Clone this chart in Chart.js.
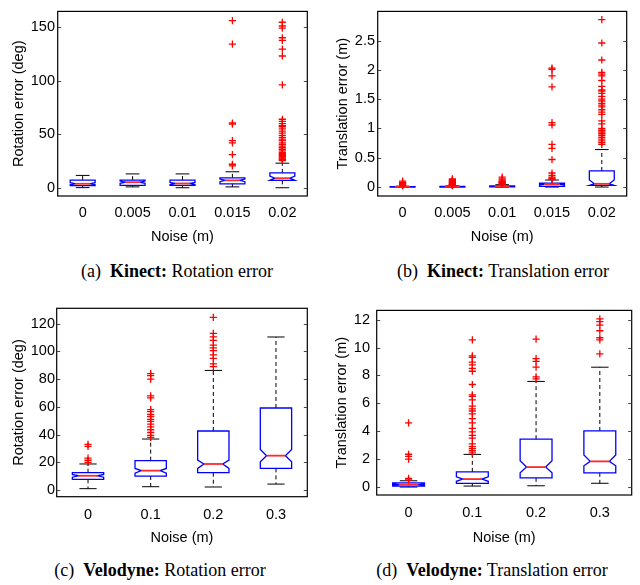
<!DOCTYPE html>
<html>
<head>
<meta charset="utf-8">
<script src="https://cdn.jsdelivr.net/npm/chart.js@4.4.0/dist/chart.umd.min.js"></script>
<style>
body { margin: 0; background: #fff; width: 640px; height: 585px; position: relative; overflow: hidden; }
canvas { position: absolute; }
.cap { position: absolute; font: 18px "Liberation Serif", "Times New Roman", serif; line-height: 18px;
       white-space: nowrap; transform: translateX(-50%); color: #000; }
</style>
</head>
<body>
<canvas id="kRot" width="320" height="255" style="left:0;top:0"></canvas>
<canvas id="kTra" width="320" height="255" style="left:320px;top:0"></canvas>
<canvas id="vRot" width="320" height="255" style="left:0;top:295px"></canvas>
<canvas id="vTra" width="320" height="255" style="left:320px;top:295px"></canvas>
<div class="cap" style="left:177px;top:262px">(a)&nbsp; <b>Kinect:</b> Rotation error</div>
<div class="cap" style="left:503px;top:262px">(b)&nbsp; <b>Kinect:</b> Translation error</div>
<div class="cap" style="left:160px;top:561px">(c)&nbsp; <b>Velodyne:</b> Rotation error</div>
<div class="cap" style="left:492px;top:561px">(d)&nbsp; <b>Velodyne:</b> Translation error</div>
<script>
var kinectNoise = ['0', '0.005', '0.01', '0.015', '0.02'];
var veloNoise = ['0', '0.1', '0.2', '0.3'];

// (a) Kinect rotation error (deg)
var kRotTicks = [0, 50, 100, 150];
var kRotQ1 = [2.0, 2.3, 2.3, 3.8, 7.0];
var kRotMed = [3.8, 5.3, 4.1, 7.0, 9.0];
var kRotQ3 = [7.3, 7.2, 7.3, 9.3, 14.0];
var kRotLo = [0.2, 0.9, 0.1, 0.9, 0.1];
var kRotHi = [11.6, 13.0, 13.0, 15.0, 23.0];
var kRotNotchLo = [2.8, 4.3, 3.1, 5.8, 7.0];
var kRotNotchHi = [4.8, 6.3, 5.1, 8.2, 11.0];
var kRotOut = [[], [], [],
    [20.5, 22, 31, 42, 44, 59.5, 60.5, 134, 156],
    [154.5, 151, 149, 140, 137.5, 129.5, 123, 96, 64, 62, 60, 58, 57, 55, 53, 51, 49, 47, 45.5, 44,
     42, 40.5, 39, 37.5, 36, 34.5, 33, 32, 31, 30, 29, 28, 27, 26.5, 25.5]];

// (b) Kinect translation error (m)
var kTraTicks = [0, 0.5, 1, 1.5, 2, 2.5];
var kTraQ1 = [0.0, 0.0, 0.005, 0.012, 0.028];
var kTraMed = [0.004, 0.005, 0.01, 0.044, 0.055];
var kTraQ3 = [0.008, 0.012, 0.02, 0.066, 0.275];
var kTraLo = [0, 0, 0, 0, 0];
var kTraHi = [0.015, 0.02, 0.04, 0.12, 0.64];
var kTraNotchLo = [0.002, 0.003, 0.008, 0.036, 0.028];
var kTraNotchHi = [0.006, 0.007, 0.012, 0.052, 0.12];
var kTraOut = [[0.1, 0.08, 0.06, 0.045, 0.03, 0.02],
    [0.14, 0.125, 0.11, 0.1, 0.09, 0.08, 0.07, 0.06, 0.05, 0.045, 0.04, 0.035, 0.03, 0.025],
    [0.17, 0.14, 0.12, 0.1, 0.09, 0.08, 0.07, 0.06, 0.05],
    [2.03, 2.01, 1.9, 1.71, 1.1, 1.06, 0.73, 0.66, 0.47, 0.24, 0.2, 0.17, 0.15, 0.13],
    [2.86, 2.46, 2.17, 1.96, 1.93, 1.9, 1.82, 1.72, 1.66, 1.64, 1.6, 1.55, 1.5, 1.47, 1.43, 1.4,
     1.37, 1.32, 1.28, 1.24, 1.13, 1.08, 1.0, 0.97, 0.94, 0.91, 0.88, 0.85, 0.82, 0.79, 0.76, 0.73]];

// (c) Velodyne rotation error (deg)
var vRotTicks = [0, 20, 40, 60, 80, 100, 120];
var vRotQ1 = [7.7, 10.1, 12.5, 15.6];
var vRotMed = [10.3, 14.0, 18.8, 24.8];
var vRotQ3 = [12.5, 21.2, 42.6, 59.2];
var vRotLo = [1.0, 2.4, 2.2, 4.3];
var vRotHi = [18.8, 36.8, 86.3, 110.4];
var vRotNotchLo = [9.3, 12.2, 15.6, 20.4];
var vRotNotchHi = [11.3, 15.6, 21.6, 29.3];
var vRotOut = [[33, 31.5, 23, 21.5, 20],
    [84, 82.5, 80, 68, 66.5, 58, 56.5, 54.5, 53, 51, 49.5, 47.5, 45.5, 43.5, 41.5, 39.5, 38],
    [124.5, 113, 110.5, 108, 104.5, 102.5, 100.5, 97.5, 95, 91, 89],
    []];

// (d) Velodyne translation error (m)
var vTraTicks = [0, 2, 4, 6, 8, 10, 12];
var vTraQ1 = [0.07, 0.27, 0.66, 1.02];
var vTraMed = [0.18, 0.57, 1.43, 1.84];
var vTraQ3 = [0.3, 1.09, 3.43, 4.02];
var vTraLo = [0, 0.07, 0.09, 0.27];
var vTraHi = [0.45, 2.34, 7.57, 8.59];
var vTraNotchLo = [0.14, 0.41, 1.02, 1.52];
var vTraNotchHi = [0.22, 0.73, 1.89, 2.3];
var vTraOut = [[4.6, 2.35, 2.2, 2.0, 0.62, 0.52],
    [10.55, 9.4, 9.3, 8.95, 8.75, 8.5, 8.3, 7.35, 6.6, 6.5, 6.25, 5.8, 5.6, 5.45, 5.25, 4.9, 4.6,
     4.2, 3.95, 3.7, 3.5, 3.1, 2.9, 2.75, 2.6, 2.45],
    [10.6, 9.2, 9.0, 8.6, 7.9, 7.75],
    [12.05, 11.85, 11.6, 11.2, 10.7, 10.55, 9.55]];

var FONT = { family: '"Liberation Sans", Arial, Helvetica, sans-serif', size: 14.5 };

// boxes, whiskers and medians drawn through the chart scales
function boxPlugin(b) {
    return {
        id: 'boxes',
        beforeDatasetsDraw: function (chart) {
            var ctx = chart.ctx, xs = chart.scales.x, ys = chart.scales.y;
            var w = xs.getPixelForValue(1.25) - xs.getPixelForValue(1);
            function line(x1, y1, x2, y2) {
                ctx.beginPath(); ctx.moveTo(x1, y1); ctx.lineTo(x2, y2); ctx.stroke();
            }
            ctx.save();
            for (var i = 0; i < b.q1.length; i++) {
                var cx = xs.getPixelForValue(i + 1);
                var xl = cx - w, xr = cx + w, inset = w * 0.4, cap = w * 0.55;
                var y1 = ys.getPixelForValue(b.q1[i]), y3 = ys.getPixelForValue(b.q3[i]);
                var ym = ys.getPixelForValue(b.med[i]);
                var ylo = ys.getPixelForValue(b.lo[i]), yhi = ys.getPixelForValue(b.hi[i]);
                var nlo = ys.getPixelForValue(b.nlo[i]), nhi = ys.getPixelForValue(b.nhi[i]);

                ctx.strokeStyle = '#000'; ctx.lineWidth = 1;
                ctx.setLineDash([4, 3]);
                line(cx, y3, cx, yhi); line(cx, y1, cx, ylo);
                ctx.setLineDash([]);
                line(cx - cap, yhi, cx + cap, yhi); line(cx - cap, ylo, cx + cap, ylo);

                ctx.strokeStyle = '#0000ff'; ctx.lineWidth = 1.3;
                ctx.beginPath();
                ctx.moveTo(xl, y3); ctx.lineTo(xr, y3); ctx.lineTo(xr, nhi);
                ctx.lineTo(xr - inset, ym); ctx.lineTo(xr, nlo); ctx.lineTo(xr, y1);
                ctx.lineTo(xl, y1); ctx.lineTo(xl, nlo); ctx.lineTo(xl + inset, ym);
                ctx.lineTo(xl, nhi); ctx.closePath();
                ctx.stroke();

                ctx.strokeStyle = '#ff2a2a'; ctx.lineWidth = 1.8;
                line(xl + inset, ym, xr - inset, ym);
            }
            ctx.restore();
        }
    };
}

// matlab style frame with inward y ticks on both sides
var framePlugin = {
    id: 'frame',
    afterDraw: function (chart) {
        var ctx = chart.ctx, a = chart.chartArea, ys = chart.scales.y;
        ctx.save();
        ctx.strokeStyle = '#000'; ctx.lineWidth = 1.2;
        ctx.strokeRect(a.left, a.top, a.right - a.left, a.bottom - a.top);
        ctx.strokeStyle = '#444'; ctx.lineWidth = 1;
        ys.ticks.forEach(function (t) {
            var y = Math.round(ys.getPixelForValue(t.value)) + 0.5;
            ctx.beginPath();
            ctx.moveTo(a.left, y); ctx.lineTo(a.left + 3.5, y);
            ctx.moveTo(a.right, y); ctx.lineTo(a.right - 3.5, y);
            ctx.stroke();
        });
        ctx.restore();
    }
};

function makeChart(id, cats, yTicks, yTitle, b, outliers, lay) {
    var points = [];
    outliers.forEach(function (list, i) {
        list.forEach(function (v) { points.push({ x: i + 1, y: v }); });
    });
    return new Chart(document.getElementById(id).getContext('2d'), {
        type: 'scatter',
        data: {
            datasets: [{
                data: points,
                pointStyle: 'cross',
                pointRadius: 3.6,
                borderWidth: 1.3,
                borderColor: '#ff0000',
                backgroundColor: '#ff0000'
            }]
        },
        options: {
            responsive: false,
            animation: false,
            devicePixelRatio: 1,
            layout: { padding: { left: 0, top: lay.top, right: lay.right, bottom: 0 } },
            plugins: { legend: { display: false }, tooltip: { enabled: false } },
            scales: {
                x: {
                    type: 'linear', min: 0.5, max: cats.length + 0.5,
                    grid: { display: false, drawTicks: false }, border: { display: false },
                    afterBuildTicks: function (s) { s.ticks = cats.map(function (c, i) { return { value: i + 1 }; }); },
                    afterFit: function (s) { s.height = lay.xh; },
                    ticks: {
                        autoSkip: false, maxRotation: 0, padding: lay.xpad, color: '#000', font: FONT,
                        callback: function (v) { return cats[v - 1]; }
                    },
                    title: { display: true, text: 'Noise (m)', color: '#000', font: FONT,
                             padding: { top: 0, bottom: lay.xtp } }
                },
                y: {
                    min: lay.ymin, max: lay.ymax,
                    grid: { display: false, drawTicks: false }, border: { display: false },
                    afterBuildTicks: function (s) { s.ticks = yTicks.map(function (v) { return { value: v }; }); },
                    afterFit: function (s) { s.width = lay.yw; },
                    ticks: { padding: lay.ypad, color: '#000', font: FONT,
                             callback: function (v) { return String(v); } },
                    title: { display: true, text: yTitle, color: '#000', font: FONT,
                             padding: { top: lay.ytp, bottom: 0 } }
                }
            }
        },
        plugins: [boxPlugin(b), framePlugin]
    });
}

makeChart('kRot', kinectNoise, kRotTicks, 'Rotation error (deg)',
    { q1: kRotQ1, med: kRotMed, q3: kRotQ3, lo: kRotLo, hi: kRotHi, nlo: kRotNotchLo, nhi: kRotNotchHi },
    kRotOut,
    { top: 7.3, right: 12.7, yw: 57.7, xh: 59, ymin: -7.6, ymax: 164.6, xpad: 8.6, xtp: 9, ypad: 2.7, ytp: 10.3 });

makeChart('kTra', kinectNoise, kTraTicks, 'Translation error (m)',
    { q1: kTraQ1, med: kTraMed, q3: kTraQ3, lo: kTraLo, hi: kTraHi, nlo: kTraNotchLo, nhi: kTraNotchHi },
    kTraOut,
    { top: 4.7, right: 13.3, yw: 57.7, xh: 59, ymin: -0.153, ymax: 3.0, xpad: 8.6, xtp: 9, ypad: 2.7, ytp: 13.8 });

makeChart('vRot', veloNoise, vRotTicks, 'Rotation error (deg)',
    { q1: vRotQ1, med: vRotMed, q3: vRotQ3, lo: vRotLo, hi: vRotHi, nlo: vRotNotchLo, nhi: vRotNotchHi },
    vRotOut,
    { top: 13.3, right: 12.7, yw: 56.7, xh: 53.3, ymin: -4.8, ymax: 131.1, xpad: 9.6, xtp: 3, ypad: 1.7, ytp: 10.3 });

makeChart('vTra', veloNoise, vTraTicks, 'Translation error (m)',
    { q1: vTraQ1, med: vTraMed, q3: vTraQ3, lo: vTraLo, hi: vTraHi, nlo: vTraNotchLo, nhi: vTraNotchHi },
    vTraOut,
    { top: 6, right: 8.3, yw: 56.7, xh: 55, ymin: -0.57, ymax: 12.66, xpad: 9.6, xtp: 3, ypad: 6.7, ytp: 13.5 });
</script>
</body>
</html>
